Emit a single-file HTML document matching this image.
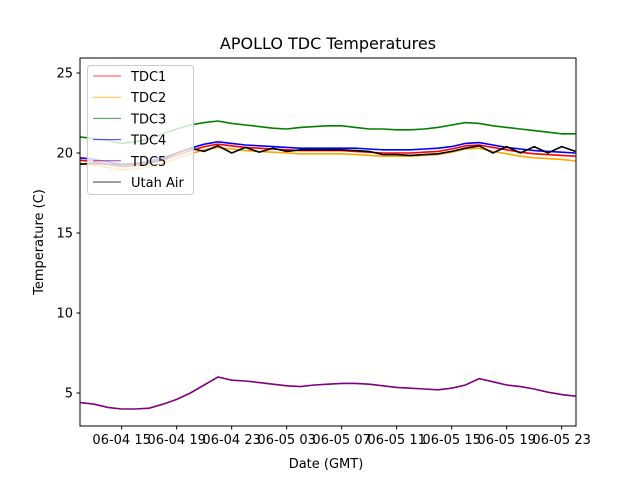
<!DOCTYPE html>
<html><head><meta charset="utf-8"><style>
body{margin:0;background:#fff;}
svg{display:block;font-family:"DejaVu Sans","Liberation Sans",sans-serif;}
</style></head><body>
<svg id="chart" width="640" height="480">
<rect width="640" height="480" fill="#fff"/>
<text x="328" y="49" font-size="16" text-anchor="middle">APOLLO TDC Temperatures</text>
<text x="326" y="468" font-size="13" text-anchor="middle">Date (GMT)</text>
<text transform="translate(43,242) rotate(-90)" font-size="13" text-anchor="middle">Temperature (C)</text>
<g id="plot"></g>
<g id="axes"></g>
<g id="legend"></g>
</svg>
<script>
const hours=[12,13,14,15,16,17,18,19,20,21,22,23,24,25,26,27,28,29,30,31,32,33,34,35,36,37,38,39,40,41,42,43,44,45,46,47,48];
const tdc5=[4.4,4.3,4.1,4.0,4.0,4.05,4.3,4.6,5.0,5.5,6.0,5.8,5.75,5.65,5.55,5.45,5.4,5.5,5.55,5.6,5.6,5.55,5.45,5.35,5.3,5.25,5.2,5.3,5.5,5.9,5.7,5.5,5.4,5.25,5.05,4.9,4.8];
const tdc3=[21.0,20.9,20.8,20.6,20.7,20.9,21.2,21.5,21.75,21.9,22.0,21.85,21.75,21.65,21.55,21.5,21.6,21.65,21.7,21.7,21.6,21.5,21.5,21.45,21.45,21.5,21.6,21.75,21.9,21.85,21.7,21.6,21.5,21.4,21.3,21.2,21.2];
const tdc4=[19.7,19.6,19.45,19.3,19.35,19.5,19.7,20.0,20.3,20.55,20.7,20.6,20.5,20.45,20.4,20.35,20.3,20.3,20.3,20.3,20.3,20.25,20.2,20.2,20.2,20.25,20.3,20.4,20.6,20.65,20.5,20.35,20.25,20.15,20.1,20.05,20.0];
const tdc1=[19.55,19.45,19.3,19.15,19.2,19.35,19.55,19.85,20.15,20.4,20.55,20.45,20.35,20.3,20.25,20.2,20.15,20.15,20.15,20.15,20.1,20.05,20.0,20.0,20.0,20.05,20.1,20.25,20.45,20.5,20.35,20.2,20.05,19.95,19.9,19.85,19.8];
const tdc2=[19.35,19.25,19.1,18.95,19.0,19.15,19.35,19.65,19.95,20.2,20.35,20.25,20.15,20.1,20.05,20.0,19.95,19.95,19.95,19.95,19.9,19.85,19.8,19.8,19.8,19.85,19.9,20.05,20.25,20.3,20.1,19.95,19.8,19.7,19.65,19.6,19.5];
const utah=[19.3,19.35,19.3,19.25,19.3,19.4,19.6,20.0,20.3,20.1,20.45,20.0,20.35,20.05,20.3,20.1,20.2,20.2,20.2,20.2,20.15,20.1,19.9,19.9,19.85,19.9,19.95,20.1,20.3,20.45,20.0,20.4,20.0,20.4,20.0,20.4,20.1];
const yTicks=[5,10,15,20,25];
const xTickHours=[15,19,23,27,31,35,39,43,47];
const xTickLabels=["06-04 15","06-04 19","06-04 23","06-05 03","06-05 07","06-05 11","06-05 15","06-05 19","06-05 23"];
const seriesNames=["TDC1","TDC2","TDC3","TDC4","TDC5","Utah Air"];

const L=80,R=576,T=58,B=426;
const X=h=>L+(h-11.97)*13.75;
const Y=v=>153-(v-20)*16;
const NS="http://www.w3.org/2000/svg";
function mk(tag,attrs,parent){const e=document.createElementNS(NS,tag);for(const k in attrs)e.setAttribute(k,attrs[k]);parent.appendChild(e);return e;}
const plot=document.getElementById('plot'),axes=document.getElementById('axes'),legend=document.getElementById('legend');
const defs=mk('clipPath',{id:'clip'},plot);mk('rect',{x:L,y:T,width:R-L,height:B-T},defs);
const g=mk('g',{'clip-path':'url(#clip)'},plot);
const series=[[tdc5,'purple','tdc5-line'],[tdc3,'green','tdc3-line'],[tdc2,'orange','tdc2-line'],[tdc1,'red','tdc1-line'],[tdc4,'blue','tdc4-line'],[utah,'black','utah-air-line']];
series.forEach(([d,c,n])=>{
 const p=mk('polyline',{points:d.map((v,i)=>X(hours[i]).toFixed(1)+','+Y(v).toFixed(1)).join(' '),fill:'none',stroke:c,'stroke-width':1.6},g);
 
 
});
const frame=mk('rect',{x:L,y:T,width:R-L,height:B-T,fill:'none',stroke:'#000','stroke-width':1},axes);


yTicks.forEach(v=>{
 mk('line',{x1:L-3.5,x2:L,y1:Y(v),y2:Y(v),stroke:'#000'},axes);
 const t=mk('text',{x:L-7,y:Y(v)+4.5,'font-size':13,'text-anchor':'end'},axes);t.textContent=v;
 
 
});
xTickHours.forEach((h,i)=>{
 mk('line',{x1:X(h),x2:X(h),y1:B,y2:B+3.5,stroke:'#000'},axes);
 const t=mk('text',{x:X(h),y:B+18,'font-size':13,'text-anchor':'middle'},axes);t.textContent=xTickLabels[i];
 
 
});
mk('rect',{x:87.5,y:65.5,width:106,height:129,rx:3,fill:'#fff','fill-opacity':0.8,stroke:'#ccc'},legend);
const lc=['red','orange','green','blue','purple','black'];
seriesNames.forEach((n,i)=>{
 const y=76+i*21.2;
 const e=mk('g',{},legend);
 
 
 mk('line',{x1:93,x2:121,y1:y,y2:y,stroke:lc[i],'stroke-width':1,'stroke-opacity':0.75},e);
 const t=mk('text',{x:131,y:y+5,'font-size':13},e);t.textContent=n;
});
</script>
</body></html>
